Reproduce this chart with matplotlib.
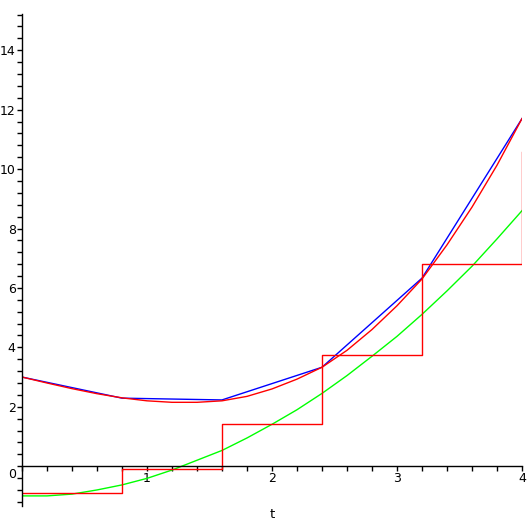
import matplotlib
matplotlib.use("Agg")
import matplotlib.pyplot as plt
from matplotlib.ticker import MultipleLocator
from matplotlib.transforms import ScaledTranslation

# ---- data ----
t_curve = [0.0, 0.2, 0.4, 0.6, 0.8, 1.0, 1.2, 1.4, 1.6, 1.8, 2.0,
           2.2, 2.4, 2.6, 2.8, 3.0, 3.2, 3.4, 3.6, 3.8, 4.0]
red_curve = [3.0, 2.8, 2.61, 2.44, 2.3, 2.2, 2.15, 2.15, 2.2, 2.35, 2.6,
             2.93, 3.33, 3.9, 4.6, 5.4, 6.3, 7.45, 8.72, 10.13, 11.7]
green_curve = [-1.0, -1.0, -0.94, -0.8, -0.63, -0.41, -0.13, 0.2, 0.53, 0.95, 1.41,
               1.9, 2.45, 3.05, 3.7, 4.37, 5.11, 5.9, 6.73, 7.65, 8.6]
t_nodes = [0.0, 0.8, 1.6, 2.4, 3.2, 4.0]
blue_nodes = [3.0, 2.29, 2.23, 3.33, 6.33, 11.7]
step_vals = [-0.89, -0.1, 1.42, 3.74, 6.8, 10.57]

y_ticks = [0, 2, 4, 6, 8, 10, 12, 14]
x_ticks = [1, 2, 3, 4]

W = H = 530
fig = plt.figure(figsize=(W / 100, H / 100), dpi=100)
ax = fig.add_axes([22 / W, 1 - 505.7 / H, 500 / W, (505.7 - 14) / H])
ax.set_xlim(0, 4)
ax.set_ylim(-1.33, 15.22)

lw = 1.0
ax.plot(t_curve, green_curve, color=(0, 1, 0), lw=lw)
ax.plot(t_nodes, blue_nodes, color=(0, 0, 1), lw=lw)
ax.step(t_nodes, step_vals, where='post', color=(1, 0, 0), lw=lw)
ax.plot(t_curve, red_curve, color=(1, 0, 0), lw=lw)

for s in ['top', 'right']:
    ax.spines[s].set_visible(False)
ax.spines['left'].set_position(('data', 0))
ax.spines['bottom'].set_position(('data', 0))
for s in ['left', 'bottom']:
    ax.spines[s].set_linewidth(1.0)
    ax.spines[s].set_color('black')

ax.set_xticks(x_ticks)
ax.set_xticklabels([str(v) for v in x_ticks])
ax.set_yticks(y_ticks)
ax.set_yticklabels([str(v) for v in y_ticks])
ax.xaxis.set_minor_locator(MultipleLocator(0.2))
ax.yaxis.set_minor_locator(MultipleLocator(0.4))
ax.tick_params(axis='both', which='both', direction='out', length=3.5,
               width=1.0, color='black', labelsize=9, pad=1)
for lab in ax.get_yticklabels():
    if lab.get_text() == '0':
        lab.set_transform(lab.get_transform() +
                          ScaledTranslation(0, -7 / 100, fig.dpi_scale_trans))

fig.text(272 / W, 1 - 515 / H, 't', ha='center', va='center', fontsize=9.5)

fig.savefig('out.png', dpi=100)
